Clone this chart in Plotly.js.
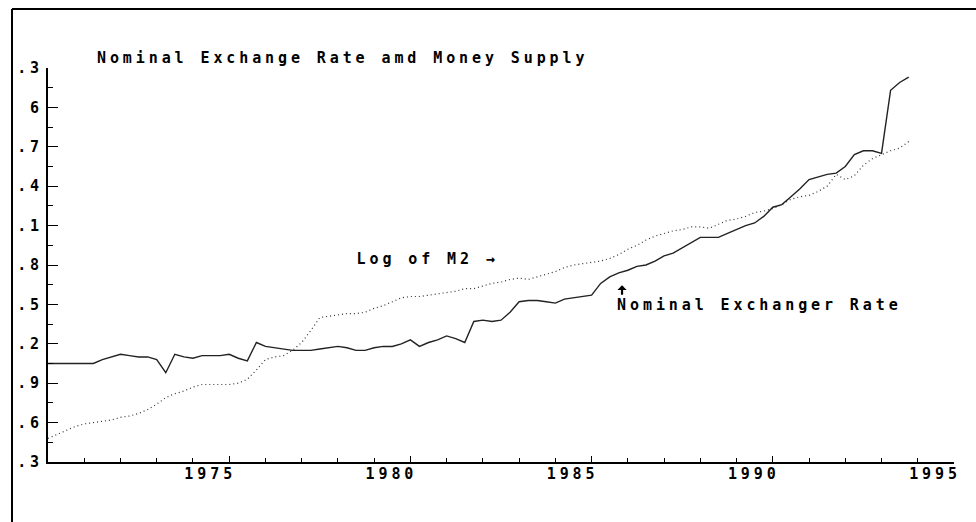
<!DOCTYPE html>
<html>
<head>
<meta charset="utf-8">
<script src="https://cdn.plot.ly/plotly-3.0.1.min.js"></script>
<style>
  html, body { margin: 0; padding: 0; background: #fff; }
  #chart { width: 976px; height: 522px; }
  #chart text { letter-spacing: 3.9px; }
</style>
</head>
<body>
<div id="chart"></div>
<script>
// Quarterly observations, 1970Q1 .. 1993Q4
const startYear = 1970;
const nominalExchangeRate = [
  4.05, 4.05, 4.05, 4.05, 4.05, 4.05, 4.08, 4.10, 4.12, 4.11, 4.10, 4.10,
  4.08, 3.98, 4.12, 4.10, 4.09, 4.11, 4.11, 4.11, 4.12, 4.09, 4.07, 4.21,
  4.18, 4.17, 4.16, 4.15, 4.15, 4.15, 4.16, 4.17, 4.18, 4.17, 4.15, 4.15,
  4.17, 4.18, 4.18, 4.20, 4.23, 4.18, 4.21, 4.23, 4.26, 4.24, 4.21, 4.37,
  4.38, 4.37, 4.38, 4.44, 4.52, 4.53, 4.53, 4.52, 4.51, 4.54, 4.55, 4.56,
  4.57, 4.66, 4.71, 4.74, 4.76, 4.79, 4.80, 4.83, 4.87, 4.89, 4.93, 4.97,
  5.01, 5.01, 5.01, 5.04, 5.07, 5.10, 5.12, 5.17, 5.24, 5.26, 5.32, 5.38,
  5.45, 5.47, 5.49, 5.50, 5.55, 5.64, 5.67, 5.67, 5.65, 6.13, 6.19, 6.23
];
const logM2 = [
  3.48, 3.51, 3.54, 3.57, 3.59, 3.60, 3.61, 3.62, 3.64, 3.65, 3.67, 3.70,
  3.74, 3.79, 3.82, 3.84, 3.87, 3.89, 3.89, 3.89, 3.89, 3.90, 3.93, 4.00,
  4.08, 4.10, 4.11, 4.15, 4.21, 4.30, 4.40, 4.41, 4.42, 4.43, 4.43, 4.44,
  4.47, 4.49, 4.52, 4.55, 4.56, 4.56, 4.57, 4.58, 4.59, 4.60, 4.62, 4.62,
  4.64, 4.66, 4.67, 4.69, 4.70, 4.69, 4.71, 4.73, 4.75, 4.78, 4.80, 4.81,
  4.82, 4.83, 4.85, 4.88, 4.92, 4.95, 4.99, 5.02, 5.04, 5.06, 5.07, 5.09,
  5.09, 5.08, 5.11, 5.14, 5.15, 5.17, 5.20, 5.21, 5.23, 5.26, 5.30, 5.32,
  5.33, 5.36, 5.40, 5.49, 5.45, 5.48, 5.56, 5.61, 5.64, 5.67, 5.69, 5.74
];
const yTickVals = [3.3, 3.6, 3.9, 4.2, 4.5, 4.8, 5.1, 5.4, 5.7, 6.0, 6.3];
const yTickText = [".3", ".6", ".9", ".2", ".5", ".8", ".1", ".4", ".7", "6", ".3"];
const xTickVals = [1975, 1980, 1985, 1990, 1995];
const xTickText = ["1975", "1980", "1985", "1990", "1995"];
const titleText = "Nominal Exchange Rate amd Money Supply";
const m2Label = "Log of M2 →";
const erLabel = "Nominal Exchanger Rate";

const quarters = nominalExchangeRate.map((_, i) => startYear + i / 4);

const FONT = {family: "DejaVu Sans Mono", size: 15, color: "#000", weight: "bold"};

const traces = [
  {x: quarters, y: logM2, type: "scatter", mode: "lines",
   line: {color: "#333", width: 1.2, dash: "1px,3px"}, hoverinfo: "skip"},
  {x: quarters, y: nominalExchangeRate, type: "scatter", mode: "lines",
   line: {color: "#222", width: 1.4}, hoverinfo: "skip"}
];

const layout = {
  width: 976, height: 522,
  margin: {l: 48, r: 22, t: 68, b: 60},
  paper_bgcolor: "#fff", plot_bgcolor: "#fff",
  showlegend: false,
  font: FONT,
  title: {text: titleText, font: FONT, x: 97 / 976, xref: "container", xanchor: "left",
          y: 1 - 58 / 522, yref: "container", yanchor: "middle"},
  xaxis: {
    range: [1970, 1995], showgrid: false, zeroline: false,
    showline: true, linecolor: "#000", linewidth: 2,
    tickmode: "array", tickvals: xTickVals, ticktext: xTickText,
    ticks: "inside", ticklen: 6, tickwidth: 1, tickcolor: "#000",
    ticklabelshift: -19, ticklabelstandoff: -3,
    minor: {tickmode: "linear", tick0: 1970, dtick: 1, ticks: "inside", ticklen: 4, tickcolor: "#000"},
    tickfont: FONT
  },
  yaxis: {
    range: [3.3, 6.3], showgrid: false, zeroline: false,
    showline: true, linecolor: "#000", linewidth: 2,
    tickmode: "array", tickvals: yTickVals, ticktext: yTickText,
    ticks: "inside", ticklen: 10, tickwidth: 1, tickcolor: "#000",
    ticklabelstandoff: 0,
    minor: {tickmode: "linear", tick0: 3.3, dtick: 0.15, ticks: "inside", ticklen: 5, tickcolor: "#000"},
    tickfont: FONT
  },
  annotations: [
    {text: m2Label, xref: "x", yref: "y", x: 1980.47, y: 4.846, xanchor: "center", yanchor: "middle",
     showarrow: false, font: FONT},
    {text: "", xref: "x", yref: "y", x: 1985.84, y: 4.645, showarrow: true,
     ax: 0, ay: 11, arrowhead: 1, arrowsize: 0.7, arrowwidth: 2.2, arrowcolor: "#000", standoff: 0},
    {text: erLabel, xref: "x", yref: "y", x: 1989.62, y: 4.495, xanchor: "center", yanchor: "middle",
     showarrow: false, font: FONT}
  ],
  shapes: [
    {type: "line", xref: "paper", yref: "paper", x0: (12 - 48) / 906, x1: (976 - 48) / 906,
     y0: (462 - 9) / 394, y1: (462 - 9) / 394, line: {color: "#000", width: 2}},
    {type: "line", xref: "paper", yref: "paper", x0: (12 - 48) / 906, x1: (12 - 48) / 906,
     y0: (462 - 9) / 394, y1: (462 - 522) / 394, line: {color: "#000", width: 2}}
  ]
};

Plotly.newPlot("chart", traces, layout, {staticPlot: true, displayModeBar: false});
</script>
</body>
</html>
